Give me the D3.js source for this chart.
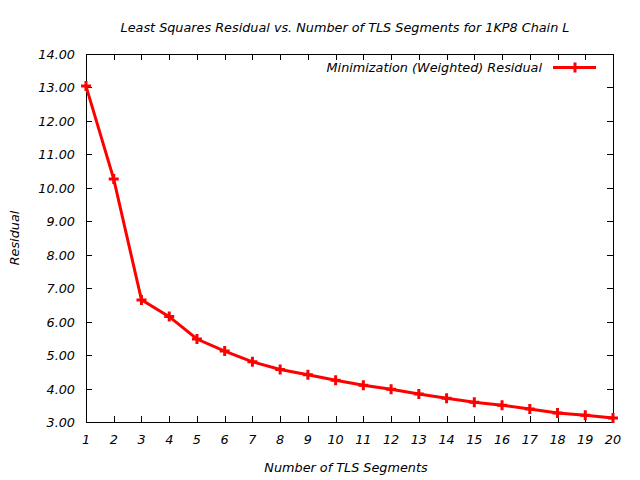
<!DOCTYPE html>
<html><head><meta charset="utf-8">
<script src="https://cdn.jsdelivr.net/npm/d3@7"></script>
<style>body{margin:0;background:#fff}svg{display:block}text{font-family:"DejaVu Sans",sans-serif;font-style:italic;fill:#000}</style>
</head><body>
<script>
const segments = [1,2,3,4,5,6,7,8,9,10,11,12,13,14,15,16,17,18,19,20];
const residuals = [13.04,10.26,6.65,6.15,5.48,5.12,4.80,4.57,4.41,4.25,4.10,3.98,3.84,3.71,3.59,3.50,3.39,3.27,3.20,3.12];
const yTicks = [3,4,5,6,7,8,9,10,11,12,13,14];
const title = "Least Squares Residual vs. Number of TLS Segments for 1KP8 Chain L";
const xTitle = "Number of TLS Segments";
const yTitle = "Residual";
const seriesName = "Minimization (Weighted) Residual";

const W=640,H=480, L=86,R=613,T=54,B=422;
const svg=d3.select("body").append("svg").attr("width",W).attr("height",H);
const x=d3.scaleLinear().domain([1,20]).range([L,R]);
const y=d3.scaleLinear().domain([3,14]).range([B,T]);
const fs=12.8;

svg.append("text").attr("x",345).attr("y",32).attr("text-anchor","middle").style("font-size",fs+"px").text(title);

const tk=6;
const g=svg.append("g").attr("stroke","#000").attr("stroke-width",1);
segments.forEach(s=>{
  const px=Math.round(x(s))+0.5;
  g.append("line").attr("x1",px).attr("x2",px).attr("y1",B).attr("y2",B-tk);
  g.append("line").attr("x1",px).attr("x2",px).attr("y1",T).attr("y2",T+tk);
});
yTicks.forEach(v=>{
  const py=Math.round(y(v))+0.5;
  g.append("line").attr("x1",L).attr("x2",L+tk).attr("y1",py).attr("y2",py);
  g.append("line").attr("x1",R).attr("x2",R-tk).attr("y1",py).attr("y2",py);
});
svg.append("rect").attr("x",L+0.5).attr("y",T+0.5).attr("width",R-L).attr("height",B-T).attr("fill","none").attr("stroke","#000").attr("stroke-width",1);

segments.forEach(s=>{
  svg.append("text").attr("x",x(s)).attr("y",B+22).attr("text-anchor","middle").style("font-size",fs+"px").text(s);
});
yTicks.forEach(v=>{
  svg.append("text").attr("x",L-11).attr("y",y(v)+5).attr("text-anchor","end").style("font-size",fs+"px").text(d3.format(".2f")(v));
});
svg.append("text").attr("x",346).attr("y",472).attr("text-anchor","middle").style("font-size",fs+"px").text(xTitle);
svg.append("text").attr("transform","translate(19,238) rotate(-90)").attr("text-anchor","middle").style("font-size",fs+"px").text(yTitle);

const line=d3.line().x((d,i)=>x(segments[i])).y(d=>y(d));
svg.append("path").datum(residuals).attr("d",line).attr("fill","none").attr("stroke","#ff0000").attr("stroke-width",3);
const ms=5;
residuals.forEach((v,i)=>{
  const px=x(segments[i]),py=y(v);
  svg.append("path").attr("d",`M${px-ms},${py}H${px+ms}M${px},${py-ms}V${py+ms}`).attr("stroke","#ff0000").attr("stroke-width",3).attr("fill","none");
});
// legend
svg.append("text").attr("x",542).attr("y",72).attr("text-anchor","end").style("font-size",fs+"px").text(seriesName);
svg.append("line").attr("x1",553).attr("x2",596).attr("y1",67.5).attr("y2",67.5).attr("stroke","#ff0000").attr("stroke-width",3);
svg.append("path").attr("d",`M${575-ms},67.5H${575+ms}M575,${67.5-ms}V${67.5+ms}`).attr("stroke","#ff0000").attr("stroke-width",3);
</script>
</body></html>
